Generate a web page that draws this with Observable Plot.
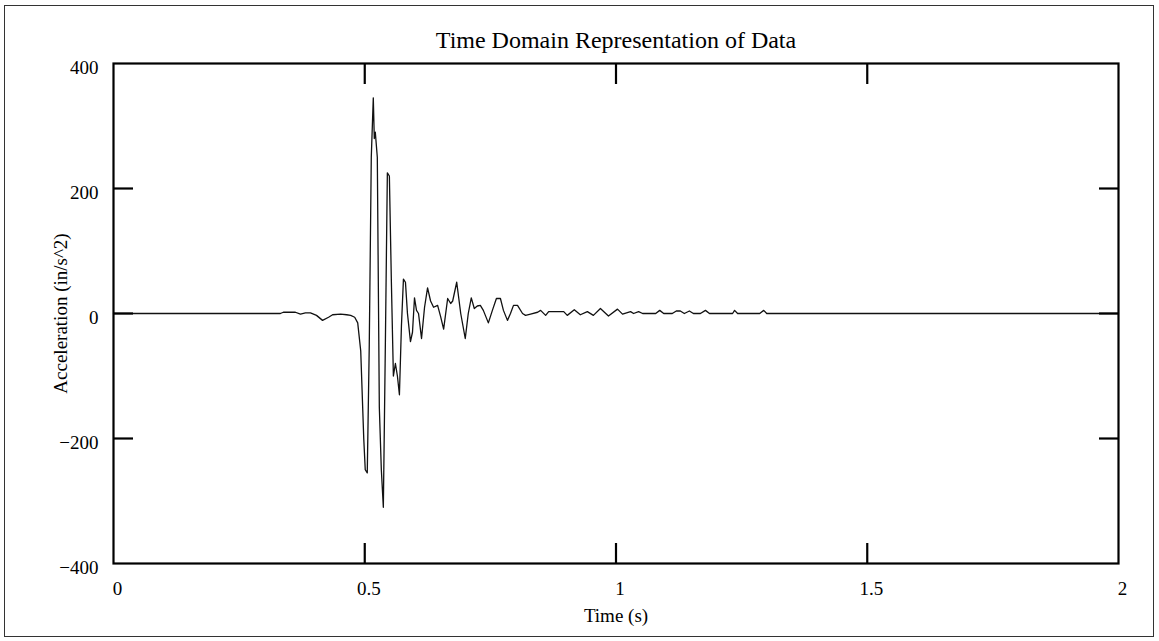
<!DOCTYPE html>
<html>
<head>
<meta charset="utf-8">
<script src="https://cdn.jsdelivr.net/npm/d3@7"></script>
<script src="https://cdn.jsdelivr.net/npm/@observablehq/plot@0.6"></script>
<style>
  html, body { margin: 0; padding: 0; background: #fff; }
  #wrap { position: relative; width: 1159px; height: 641px; }
  #border { position: absolute; left: 4px; top: 5px; width: 1150px; height: 632px; border: 1.5px solid #333; box-sizing: border-box; pointer-events: none; }
  svg { display: block; }
</style>
</head>
<body>
<div id="wrap"><div id="border"></div></div>
<script>
// Time (s)
const time = [
  0, 0.332, 0.338, 0.362, 0.372, 0.382, 0.392, 0.404, 0.416, 0.428, 0.436, 0.452, 0.464, 0.472, 0.480,
  0.486, 0.492, 0.498, 0.501, 0.505, 0.509, 0.513, 0.517, 0.519, 0.521, 0.525, 0.529, 0.533, 0.537,
  0.541, 0.545, 0.549, 0.553, 0.557, 0.561, 0.565, 0.569, 0.573, 0.577, 0.581, 0.585, 0.591, 0.595,
  0.599, 0.603, 0.607, 0.613, 0.619, 0.625, 0.631, 0.637, 0.645, 0.651, 0.657, 0.665, 0.671, 0.675,
  0.683, 0.691, 0.700, 0.706, 0.712, 0.718, 0.724, 0.730, 0.736, 0.746, 0.754, 0.762, 0.770, 0.776,
  0.784, 0.790, 0.796, 0.804, 0.814, 0.820, 0.830, 0.844, 0.850, 0.860, 0.866, 0.882, 0.896, 0.903,
  0.917, 0.929, 0.943, 0.955, 0.969, 0.985, 1.003, 1.013, 1.029, 1.035, 1.045, 1.053, 1.079, 1.087,
  1.095, 1.112, 1.120, 1.128, 1.136, 1.146, 1.154, 1.168, 1.178, 1.186, 1.232, 1.236, 1.242, 1.286,
  1.294, 1.300, 2
];
// Acceleration (in/s^2)
const accel = [
  0, 0, 2, 2, -1, 1, 1, -3, -11, -6, -2, -1, -2, -3, -6,
  -15, -60, -200, -250, -255, -50, 250, 345, 280, 290, 250, -150, -250, -310,
  -50, 225, 220, 50, -100, -80, -100, -130, -20, 55, 50, 0, -45, -30,
  25, 5, 0, -40, 10, 41, 20, 10, 13, -5, -25, 24, 16, 20,
  50, 0, -40, 0, 25, 8, 12, 13, 5, -15, 5, 24, 24, 5,
  -11, 0, 13, 13, 0, -3, -1, 2, 5, -3, 3, 3, 3, -3,
  6, -2, 3, -3, 8, -4, 7, -1, 3, 0, 3, 0, 0, 5,
  0, 0, 4, 4, 0, 4, 0, 0, 5, 0, 0, 5, 0, 0,
  5, 0, 0
];
const xTicks = [0, 0.5, 1, 1.5, 2];
const xInnerTicks = [0.5, 1, 1.5];
const yTicks = [400, 200, 0, -200, -400];
const yInnerTicks = [200, 0, -200];
const titleText = "Time Domain Representation of Data";
const xLabel = "Time (s)";
const yLabel = "Acceleration (in/s^2)";

const data = time.map((t, i) => ({t, a: accel[i]}));
const fmt = d => d < 0 ? "\u2212" + Math.abs(d) : String(d);
const font = "Liberation Serif, Times New Roman, serif";

const chart = Plot.plot({
  width: 1159,
  height: 641,
  marginLeft: 113,
  marginRight: 41,
  marginTop: 63,
  marginBottom: 78,
  style: {fontFamily: font, fontSize: "19px", color: "#000", background: "transparent"},
  x: {domain: [0, 2]},
  y: {domain: [-400, 400]},
  marks: [
    Plot.line(data, {x: "t", y: "a", stroke: "#111", strokeWidth: 1.3}),
    Plot.frame({stroke: "#000", strokeWidth: 2.2}),
    // inward ticks
    Plot.axisY(yInnerTicks, {anchor: "left", tickSize: -20, tickFormat: () => "", label: null, strokeWidth: 2.2}),
    Plot.axisY(yInnerTicks, {anchor: "right", tickSize: -20, tickFormat: () => "", label: null, strokeWidth: 2.2}),
    Plot.axisX(xInnerTicks, {anchor: "bottom", tickSize: -20, tickFormat: () => "", label: null, strokeWidth: 2.2}),
    Plot.axisX(xInnerTicks, {anchor: "top", tickSize: -20, tickFormat: () => "", label: null, strokeWidth: 2.2}),
    // tick labels
    Plot.axisY(yTicks, {anchor: "left", tickSize: 0, tickPadding: 15, dy: 4, tickFormat: fmt, label: null, fontSize: 19}),
    Plot.axisX(xTicks, {anchor: "bottom", tickSize: 0, tickPadding: 18, dx: 4, tickFormat: fmt, label: null, fontSize: 19}),
    // titles
    Plot.text([titleText], {frameAnchor: "top", dy: -23, fontSize: 24, lineAnchor: "middle", fill: "#000"}),
    Plot.text([xLabel], {frameAnchor: "bottom", dy: 52, fontSize: 19, lineAnchor: "middle", fill: "#000"}),
    Plot.text([yLabel], {frameAnchor: "left", textAnchor: "middle", dx: -53, rotate: -90, fontSize: 19, lineAnchor: "middle", fill: "#000"})
  ]
});
document.getElementById("wrap").prepend(chart);
</script>
</body>
</html>
